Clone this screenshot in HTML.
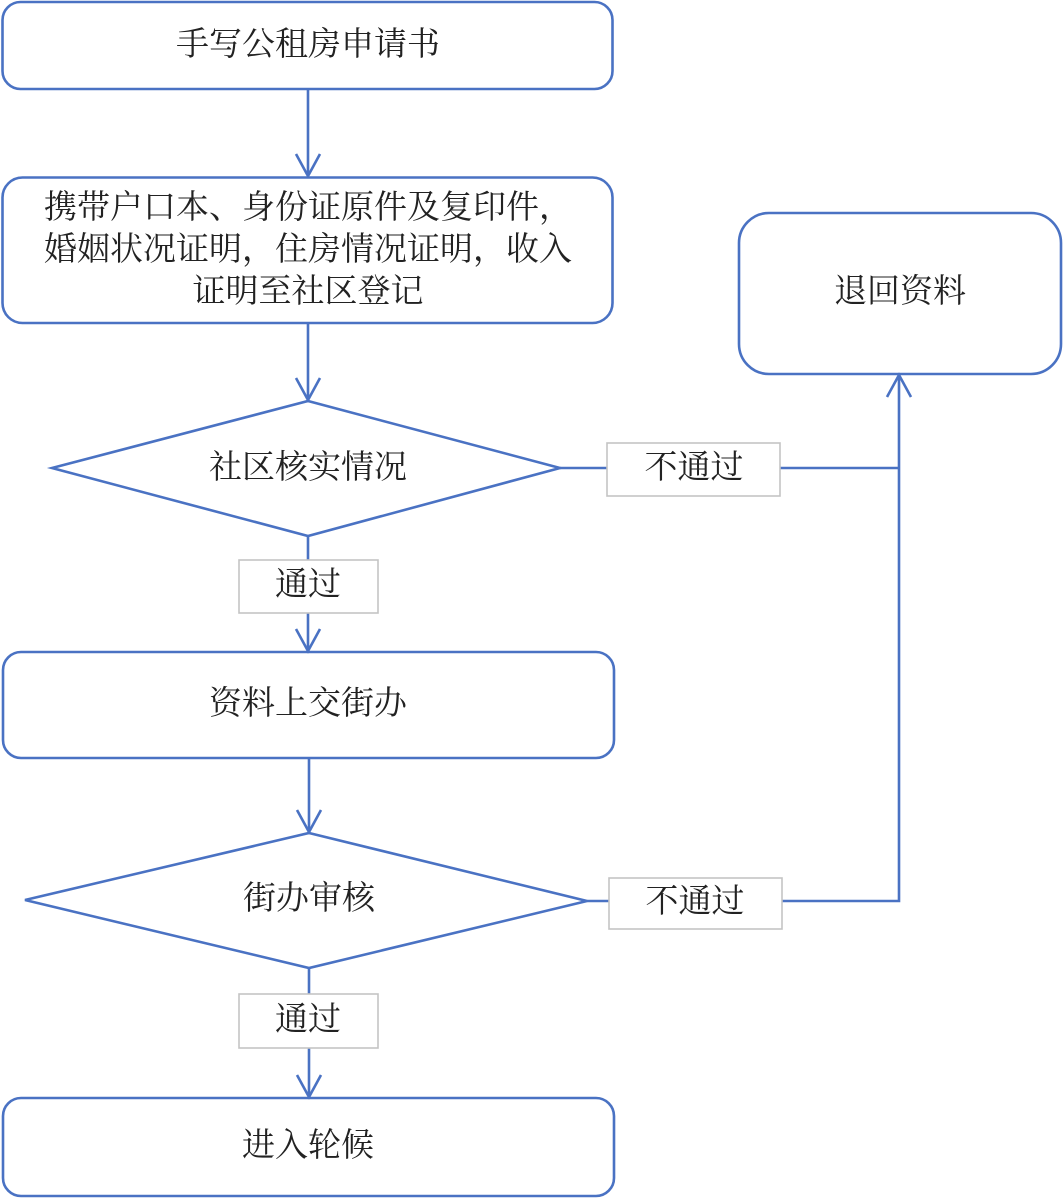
<!DOCTYPE html>
<html>
<head>
<meta charset="utf-8">
<style>
html,body{margin:0;padding:0;background:#fff;}
svg{display:block;}
text{font-family:"Liberation Serif","Noto Serif CJK SC","Noto Sans CJK SC",serif;font-size:33px;fill:#222;text-anchor:middle;dominant-baseline:central;}
</style>
</head>
<body>
<svg width="1063" height="1200" viewBox="0 0 1063 1200" xmlns="http://www.w3.org/2000/svg">
<g fill="#fff" stroke="#4a72c3" stroke-width="2.6">
  <rect x="2.5" y="2" width="610" height="87" rx="18"/>
  <rect x="2.5" y="177.5" width="610" height="145.5" rx="20"/>
  <rect x="739" y="213" width="322" height="161" rx="30"/>
  <polygon points="308,401 560,468 308,536 52,468"/>
  <rect x="3" y="652" width="611" height="106" rx="18"/>
  <polygon points="309,833 587,901 309,968 25,900"/>
  <rect x="3" y="1098" width="611" height="98" rx="18"/>
</g>
<g fill="none" stroke="#4a72c3" stroke-width="2.6">
  <line x1="308" y1="89" x2="308" y2="176"/>
  <polyline points="296,154 308,176 320,154"/>
  <line x1="308" y1="323" x2="308" y2="400"/>
  <polyline points="296,378 308,400 320,378"/>
  <line x1="308" y1="536" x2="308" y2="560"/>
  <line x1="308" y1="613" x2="308" y2="651"/>
  <polyline points="296,629 308,651 320,629"/>
  <line x1="309" y1="758" x2="309" y2="832"/>
  <polyline points="297,810 309,832 321,810"/>
  <line x1="309" y1="968" x2="309" y2="994"/>
  <line x1="309" y1="1048" x2="309" y2="1097"/>
  <polyline points="297,1075 309,1097 321,1075"/>
  <line x1="560" y1="468" x2="607" y2="468"/>
  <line x1="780" y1="468" x2="899" y2="468"/>
  <line x1="587" y1="901" x2="609" y2="901"/>
  <polyline points="782,901 899,901 899,375"/>
  <polyline points="887,397 899,375 911,397"/>
</g>
<g fill="#fff" stroke="#c4c4c4" stroke-width="1.6">
  <rect x="607" y="443" width="173" height="53"/>
  <rect x="239" y="560" width="139" height="53"/>
  <rect x="609" y="878" width="173" height="51"/>
  <rect x="239" y="994" width="139" height="54"/>
</g>
<text x="308" y="45">手写公租房申请书</text>
<text x="308" y="208">携带户口本、身份证原件及复印件，</text>
<text x="308" y="250">婚姻状况证明，住房情况证明，收入</text>
<text x="308" y="292">证明至社区登记</text>
<text x="900" y="292">退回资料</text>
<text x="308" y="468">社区核实情况</text>
<text x="694" y="468">不通过</text>
<text x="308" y="585">通过</text>
<text x="308" y="704">资料上交街办</text>
<text x="309" y="899">街办审核</text>
<text x="695" y="902">不通过</text>
<text x="308" y="1020">通过</text>
<text x="308" y="1146">进入轮候</text>
</svg>
</body>
</html>
